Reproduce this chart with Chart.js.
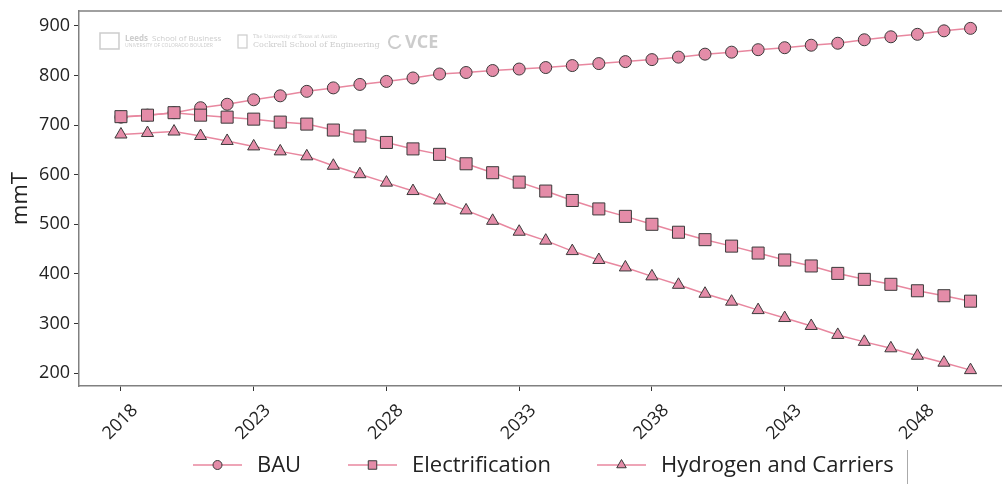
<!DOCTYPE html>
<html>
<head>
<meta charset="utf-8">
<script src="https://cdn.jsdelivr.net/npm/chart.js@4"></script>
<style>
  html, body { margin: 0; padding: 0; background: #fff; overflow: hidden; }
  #wrap { width: 1040px; height: 484px; }
</style>
</head>
<body>
<div id="wrap"><canvas id="myChart" width="1040" height="484"></canvas></div>
<script>
// annees et series (mmT)
var years = [];
for (var y = 2018; y <= 2050; y++) years.push(y);

var bau = [716, 720, 725, 735, 742, 751, 759, 768, 775, 782, 788, 795, 803, 806, 810, 813,
    816, 820, 824, 828, 832, 837, 843, 847, 852, 856, 861, 865, 872, 878, 883, 890, 895];
var electrification = [717, 720, 725, 720, 716, 712, 706, 702, 690, 678, 665, 652, 641, 622, 604, 585,
    567, 548, 531, 516, 500, 484, 469, 456, 442, 428, 416, 401, 389, 379, 366, 356, 345];
var hydrogen = [681, 684, 687, 678, 668, 657, 647, 637, 618, 601, 584, 567, 548, 528, 507, 485,
    467, 446, 428, 413, 395, 378, 360, 344, 327, 311, 295, 277, 263, 250, 235, 221, 206];

var xTicks = [2018, 2023, 2028, 2033, 2038, 2043, 2048];
var yTicks = [200, 300, 400, 500, 600, 700, 800, 900];

var lineColor = '#e8879f';
var fillColor = '#e48ca8';
var edgeColor = '#3a3a3a';
var fontFam = '"Open Sans", "Noto Sans", sans-serif';

// taille des marqueurs selon la forme (rect et triangle sont plus petits a rayon egal)
var markerRadius = { circle: 6, rect: 8.5, triangle: 7 };
var legendRadius = { circle: 4.5, rect: 6, triangle: 5.5 };
var legendX = [193, 348, 597];

function serie(label, values, style, ordre) {
    return {
        label: label,
        data: values.map(function (v, i) { return { x: years[i], y: v }; }),
        order: ordre, // la derniere serie passe au-dessus, comme dans l'original
        borderColor: lineColor,
        borderWidth: 1.5,
        pointStyle: style,
        pointRadius: markerRadius[style],
        pointBackgroundColor: fillColor,
        pointBorderColor: edgeColor,
        pointBorderWidth: 1,
        tension: 0
    };
}

var data = {
    datasets: [
        serie('BAU', bau, 'circle', 3),
        serie('Electrification', electrification, 'rect', 2),
        serie('Hydrogen and Carriers', hydrogen, 'triangle', 1)
    ]
};

// cadre du haut, filigranes et legende dessines a la main
var decor = {
    id: 'decor',
    beforeDatasetsDraw: function (chart) {
        var c = chart.ctx, a = chart.chartArea;
        c.save();
        // filigranes
        c.globalAlpha = 0.5;
        c.fillStyle = '#9a9a9a';
        c.strokeStyle = '#9a9a9a';
        c.lineWidth = 1.5;
        c.strokeRect(100, 33, 19, 16);
        c.font = 'bold 8px ' + fontFam;
        c.textBaseline = 'middle';
        c.fillText('Leeds', 125, 39);
        c.font = '8px ' + fontFam;
        c.fillText('School of Business', 152, 39);
        c.font = '5px ' + fontFam;
        c.fillText('UNIVERSITY OF COLORADO BOULDER', 125, 46);
        c.lineWidth = 1.2;
        c.strokeRect(238, 35, 9, 13);
        c.font = '5px "DejaVu Serif", serif';
        c.fillText('The University of Texas at Austin', 253, 37);
        c.font = '8px "DejaVu Serif", serif';
        c.fillText('Cockrell School of Engineering', 253, 45);
        c.lineWidth = 2;
        c.beginPath();
        c.arc(395, 42, 6, 0.4, 5.4);
        c.stroke();
        c.font = 'bold 18px ' + fontFam;
        c.fillText('VCE', 405, 43);
        c.globalAlpha = 1;
        // cadre du haut
        c.strokeStyle = '#808080';
        c.lineWidth = 1.5;
        c.beginPath();
        c.moveTo(a.left, a.top);
        c.lineTo(a.right, a.top);
        c.stroke();
        c.restore();
    },
    afterDraw: function (chart) {
        var c = chart.ctx;
        c.save();
        var ly = 465;
        c.font = '22px ' + fontFam;
        c.textBaseline = 'middle';
        chart.data.datasets.forEach(function (ds, i) {
            var x = legendX[i];
            c.strokeStyle = lineColor;
            c.lineWidth = 1.5;
            c.beginPath();
            c.moveTo(x, ly);
            c.lineTo(x + 49, ly);
            c.stroke();
            c.fillStyle = fillColor;
            c.strokeStyle = edgeColor;
            c.lineWidth = 1;
            Chart.helpers.drawPoint(c, { pointStyle: ds.pointStyle, radius: legendRadius[ds.pointStyle], borderWidth: 1 }, x + 24.5, ly);
            c.fillStyle = '#222';
            c.fillText(ds.label, x + 64, ly + 1);
        });
        // bord du cadre de legende
        c.strokeStyle = '#aaa';
        c.lineWidth = 1;
        c.beginPath();
        c.moveTo(907.5, 450);
        c.lineTo(907.5, 484);
        c.stroke();
        c.restore();
    }
};

var options = {
    responsive: false,
    animation: false,
    layout: { padding: { left: 0, top: 11, right: 27, bottom: 0 } },
    plugins: {
        legend: { display: false },
        tooltip: { enabled: false }
    },
    scales: {
        x: {
            type: 'linear',
            min: 2016.42,
            max: 2051.6,
            afterBuildTicks: function (scale) {
                scale.ticks = xTicks.map(function (v) { return { value: v }; });
            },
            afterFit: function (scale) {
                scale.height = 98;
                scale.paddingLeft = 0;
                scale.paddingRight = 0;
            },
            grid: { drawOnChartArea: false, drawTicks: true, tickLength: 5, color: '#333', lineWidth: 1 },
            border: { color: '#808080', width: 1.5 },
            ticks: {
                minRotation: 45,
                maxRotation: 45,
                color: '#222',
                padding: 9,
                labelOffset: 14,
                font: { family: fontFam, size: 18 },
                callback: function (v) { return String(v); }
            }
        },
        y: {
            min: 174,
            max: 930,
            afterBuildTicks: function (scale) {
                scale.ticks = yTicks.map(function (v) { return { value: v }; });
            },
            afterFit: function (scale) {
                scale.width = 79;
                scale.paddingTop = 0;
                scale.paddingBottom = 0;
            },
            grid: { drawOnChartArea: false, drawTicks: true, tickLength: 5, color: '#333', lineWidth: 1 },
            border: { color: '#808080', width: 1.5 },
            title: {
                display: true,
                text: 'mmT',
                color: '#222',
                padding: { top: 8, bottom: 0 },
                font: { family: fontFam, size: 22 }
            },
            ticks: {
                color: '#222',
                padding: 4,
                font: { family: fontFam, size: 18 }
            }
        }
    }
};

var ctx = document.getElementById('myChart').getContext('2d');
var myChart = new Chart(ctx, {
    type: 'line',
    data: data,
    options: options,
    plugins: [decor]
});
</script>
</body>
</html>
